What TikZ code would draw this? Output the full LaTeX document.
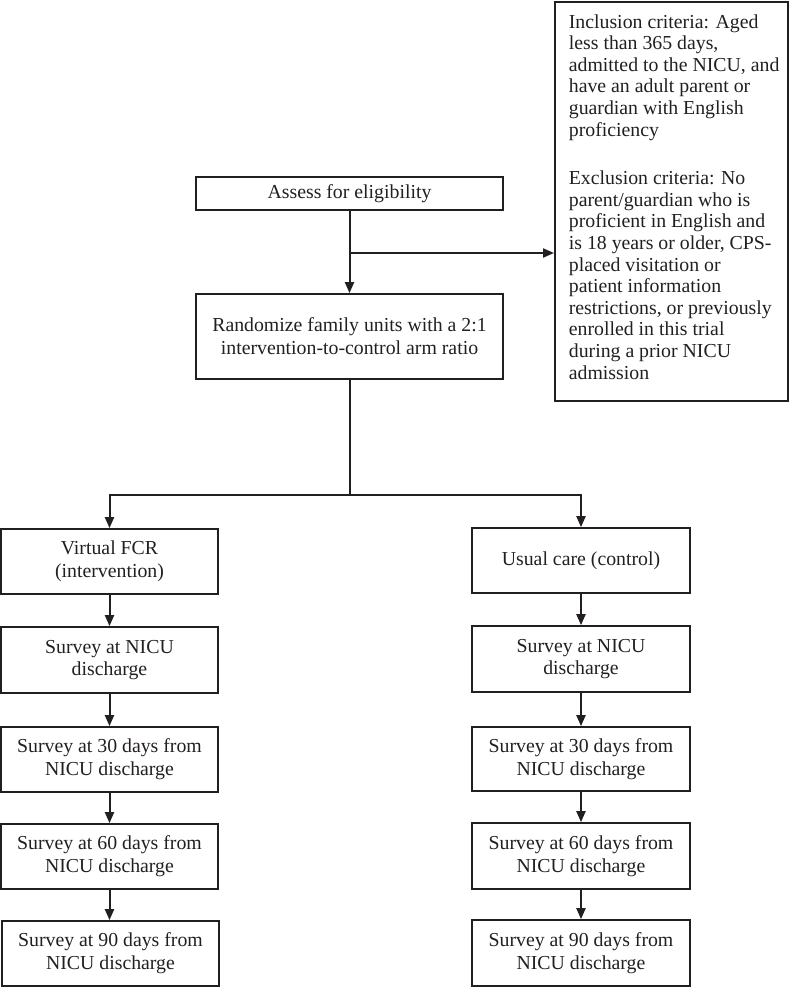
\documentclass[tikz,border=0pt]{standalone}
\usepackage{fontspec}
\setmainfont{Liberation Serif}
\usetikzlibrary{arrows.meta}
\definecolor{ink}{HTML}{231F20}
\begin{document}
\begin{tikzpicture}[x=1pt,y=-1pt,
  box/.style={draw=ink,line width=1.7pt,text=ink,inner sep=0pt,align=center,
    font=\fontsize{19.8}{22.8}\selectfont},
  arr/.style={draw=ink,line width=2pt,-{Triangle[length=11pt,width=9pt]}},
  ln/.style={draw=ink,line width=2pt}]
\useasboundingbox (0,0) rectangle (788,987);
\node[box,minimum width=233pt,minimum height=399pt,align=left,anchor=north west,
  font=\fontsize{19.8}{21.6}\selectfont] (crit) at (554,1)
  {\hspace*{13pt}\parbox[c][399pt][c]{218pt}{\raggedright
  Inclusion criteria: Aged\\
  less than 365 days,\\
  admitted to the NICU, and\\
  have an adult parent or\\
  guardian with English\\
  proficiency\\[27pt]
  Exclusion criteria: No\\
  parent/guardian who is\\
  proficient in English and\\
  is 18 years or older, CPS-\\
  placed visitation or\\
  patient information\\
  restrictions, or previously\\
  enrolled in this trial\\
  during a prior NICU\\
  admission\par\vspace{9pt}}};
\node[box,minimum width=307pt,minimum height=33pt] (assess) at (349.5,193.5) {Assess for eligibility};
\node[box,minimum width=307pt,minimum height=85pt] (rand) at (349.5,336.5)
  {Randomize family units with a 2:1\\intervention-to-control arm ratio};
\node[box,minimum width=217pt,minimum height=65pt] (vfcr) at (109.5,561.5) {Virtual FCR\\(intervention)};
\node[box,minimum width=217pt,minimum height=66pt] (l1) at (109.5,660) {Survey at NICU\\discharge};
\node[box,minimum width=217pt,minimum height=65pt] (l2) at (109.5,759.5) {Survey at 30 days from\\NICU discharge};
\node[box,minimum width=217pt,minimum height=65pt] (l3) at (109.5,856.5) {Survey at 60 days from\\NICU discharge};
\node[box,minimum width=217pt,minimum height=65pt] (l4) at (110.5,953.5) {Survey at 90 days from\\NICU discharge};
\node[box,minimum width=218pt,minimum height=65pt] (uc) at (581,560.5) {Usual care (control)};
\node[box,minimum width=218pt,minimum height=66pt] (r1) at (581,659) {Survey at NICU\\discharge};
\node[box,minimum width=218pt,minimum height=64pt] (r2) at (581,759) {Survey at 30 days from\\NICU discharge};
\node[box,minimum width=218pt,minimum height=66pt] (r3) at (581,856) {Survey at 60 days from\\NICU discharge};
\node[box,minimum width=218pt,minimum height=66pt] (r4) at (581,953) {Survey at 90 days from\\NICU discharge};
\coordinate (br) at (assess.south |- 0,253);
\coordinate (sp) at (rand.south |- 0,495);
\draw[arr] (assess.south) -- (rand.north);
\draw[arr] (br) -- (br -| crit.west);
\draw[ln] (rand.south) -- (sp);
\draw[arr] (sp) -| (vfcr.north);
\draw[arr] (sp) -| (uc.north);
\draw[arr] (vfcr) -- (l1);
\draw[arr] (l1) -- (l2);
\draw[arr] (l2) -- (l3);
\draw[arr] (l3) -- (l4.north -| l3.south);
\draw[arr] (uc) -- (r1);
\draw[arr] (r1) -- (r2);
\draw[arr] (r2) -- (r3);
\draw[arr] (r3) -- (r4);
\end{tikzpicture}
\end{document}
